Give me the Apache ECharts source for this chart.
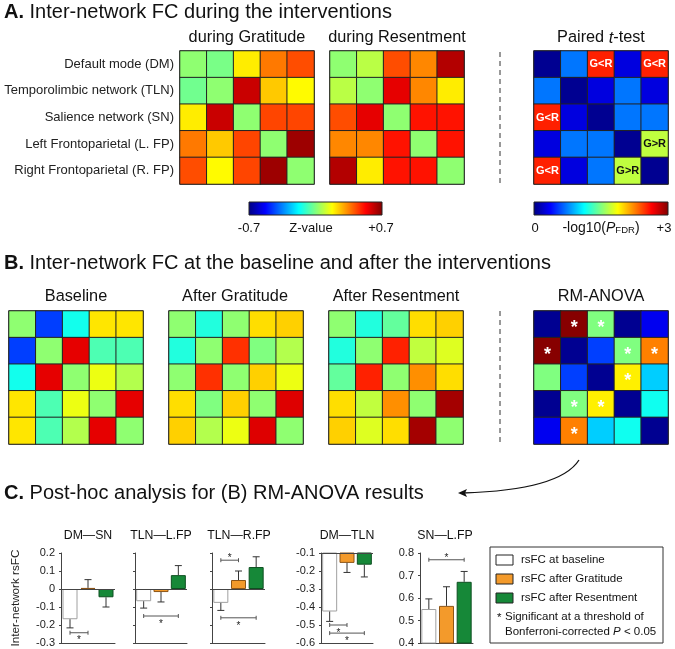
<!DOCTYPE html>
<html><head><meta charset="utf-8">
<script src="https://cdn.jsdelivr.net/npm/echarts@6/dist/echarts.min.js"></script>
<style>html,body{margin:0;padding:0;background:#fff}#c{width:675px;height:649px}</style>
</head><body><div id="c"></div>
<script>
// ---------- DATA ----------
const networks = ['Default mode (DM)', 'Temporolimbic network (TLN)', 'Salience network (SN)', 'Left Frontoparietal (L. FP)', 'Right Frontoparietal (R. FP)'];
const netShort = ['DM', 'TLN', 'SN', 'L.FP', 'R.FP'];

// Z-values (-0.7 .. +0.7)
const duringGratitude = [
  [0.02, -0.01, 0.20, 0.36, 0.42],
  [-0.02, 0.02, 0.60, 0.25, 0.18],
  [0.20, 0.60, 0.02, 0.43, 0.43],
  [0.36, 0.25, 0.43, 0.02, 0.66],
  [0.42, 0.18, 0.43, 0.66, 0.02]
];
const duringResentment = [
  [0.02, 0.08, 0.42, 0.34, 0.63],
  [0.08, 0.02, 0.56, 0.34, 0.20],
  [0.42, 0.56, 0.02, 0.50, 0.50],
  [0.34, 0.34, 0.50, 0.02, 0.50],
  [0.63, 0.20, 0.50, 0.50, 0.02]
];
// -log10(P_FDR) (0 .. 3)
const pairedT = [
  [0.05, 0.72, 2.53, 0.28, 2.53],
  [0.72, 0.05, 0.28, 0.72, 0.28],
  [2.53, 0.28, 0.05, 0.72, 0.72],
  [0.28, 0.72, 0.72, 0.05, 1.69],
  [2.53, 0.28, 0.72, 1.69, 0.05]
];
const pairedLabels = [
  ['', '', 'G<R', '', 'G<R'],
  ['', '', '', '', ''],
  ['G<R', '', '', '', ''],
  ['', '', '', '', 'G>R'],
  ['G<R', '', '', 'G>R', '']
];
const baseline = [
  [0.02, -0.44, -0.15, 0.21, 0.21],
  [-0.44, 0.02, 0.56, -0.07, -0.07],
  [-0.15, 0.56, 0.02, 0.15, 0.07],
  [0.21, -0.07, 0.15, 0.02, 0.56],
  [0.21, -0.07, 0.07, 0.56, 0.02]
];
const afterGratitude = [
  [0.02, -0.13, 0.02, 0.22, 0.24],
  [-0.13, 0.02, 0.46, 0.00, 0.07],
  [0.02, 0.46, 0.02, 0.24, 0.15],
  [0.22, 0.00, 0.24, 0.02, 0.57],
  [0.24, 0.07, 0.15, 0.57, 0.02]
];
const afterResentment = [
  [0.02, -0.13, -0.04, 0.22, 0.24],
  [-0.13, 0.02, 0.48, 0.09, 0.13],
  [-0.04, 0.48, 0.02, 0.33, 0.22],
  [0.22, 0.09, 0.33, 0.02, 0.65],
  [0.24, 0.13, 0.22, 0.65, 0.02]
];
const rmAnova = [
  [0.05, 2.98, 1.50, 0.05, 0.33],
  [2.98, 0.05, 0.56, 1.50, 2.25],
  [1.50, 0.56, 0.05, 1.92, 0.98],
  [0.05, 1.50, 1.92, 0.05, 1.17],
  [0.33, 2.25, 0.98, 1.17, 0.05]
];
const anovaStars = [
  ['', '*', '*', '', ''],
  ['*', '', '', '*', '*'],
  ['', '', '', '*', ''],
  ['', '*', '*', '', ''],
  ['', '*', '', '', '']
];

// Post-hoc bars: [baseline, after Gratitude, after Resentment]
const barGroups = ['rsFC at baseline', 'rsFC after Gratitude', 'rsFC after Resentment'];
const barTitles = ['DM\u2014SN', 'TLN\u2014L.FP', 'TLN\u2014R.FP', 'DM\u2014TLN', 'SN\u2014L.FP'];
const meanDMSN = [-0.168, 0.006, -0.046];
const errDMSN = [0.048, 0.046, 0.054];
const meanTLNLFP = [-0.068, -0.017, 0.077];
const errTLNLFP = [0.038, 0.055, 0.053];
const meanTLNRFP = [-0.077, 0.050, 0.122];
const errTLNRFP = [0.042, 0.050, 0.057];
const meanDMTLN = [-0.425, -0.155, -0.165];
const errDMTLN = [0.055, 0.053, 0.068];
const meanSNLFP = [0.551, 0.565, 0.672];
const errSNLFP = [0.045, 0.085, 0.046];
// significance brackets: [from bar, to bar, y]
const sigDMSN = [[0, 1, -0.243]];
const sigTLNLFP = [[0, 2, -0.150]];
const sigTLNRFP = [[0, 1, 0.160], [0, 2, -0.160]];
const sigDMTLN = [[0, 1, -0.500], [0, 2, -0.545]];
const sigSNLFP = [[0, 2, 0.770]];
const axisMinDMSN = -0.3, axisMaxDMSN = 0.2;
const axisMinDMTLN = -0.6, axisMaxDMTLN = -0.1;
const axisMinSNLFP = 0.4, axisMaxSNLFP = 0.8;

// ---------- STYLE ----------
const FONT = '"Liberation Sans", Arial, Helvetica, sans-serif';
const JET = ['#000080', '#0000FF', '#0080FF', '#00FFFF', '#80FF80', '#FFFF00', '#FF8000', '#FF0000', '#800000'];
const BAR_FILL = ['#FFFFFF', '#F39A2B', '#168838'];
const BAR_BORDER = ['#A0A0A0', '#8C5518', '#0D4F20'];

const chart = echarts.init(document.getElementById('c'));

const grid = [], xAxis = [], yAxis = [], series = [];

// heatmaps
const heatDefs = [
  { m: duringGratitude, l: 180, t: 51, labels: null, names: true },
  { m: duringResentment, l: 330, t: 51 },
  { m: pairedT, l: 534, t: 51, labels: pairedLabels, kind: 'p' },
  { m: baseline, l: 9, t: 311 },
  { m: afterGratitude, l: 169, t: 311 },
  { m: afterResentment, l: 329, t: 311 },
  { m: rmAnova, l: 534, t: 311, labels: anovaStars, kind: 's' }
];
heatDefs.forEach((h, i) => {
  grid.push({ left: h.l, top: h.t, width: 134, height: 133, show: true, borderColor: '#222', borderWidth: 1.2, backgroundColor: 'transparent' });
  xAxis.push({ type: 'category', gridIndex: i, data: netShort, show: false });
  yAxis.push({
    type: 'category', gridIndex: i, data: h.names ? networks : netShort, inverse: true,
    show: !!h.names, axisLine: { show: false }, axisTick: { show: false },
    axisLabel: { show: !!h.names, fontFamily: FONT, fontSize: 13, color: '#222', margin: 6 }
  });
  const data = [];
  h.m.forEach((row, r) => row.forEach((v, c) => {
    const item = { value: [c, r, v] };
    const txt = h.labels ? h.labels[r][c] : '';
    if (txt) {
      if (h.kind === 'p') {
        item.label = { show: true, formatter: txt, color: txt === 'G<R' ? '#fff' : '#111', fontWeight: 'bold', fontSize: 11, fontFamily: FONT };
      } else {
        item.label = { show: true, formatter: txt, color: '#fff', fontWeight: 'bold', fontSize: 18, fontFamily: FONT, offset: [0, 4] };
      }
    }
    data.push(item);
  }));
  series.push({
    type: 'heatmap', xAxisIndex: i, yAxisIndex: i, data: data,
    itemStyle: { borderColor: '#222', borderWidth: 1 },
    label: { show: false }, emphasis: { disabled: true }, silent: true
  });
});

// bar charts
const barDefs = [
  { mean: meanDMSN, err: errDMSN, sig: sigDMSN, l: 61, w: 54, min: axisMinDMSN, max: axisMaxDMSN, labels: true, ref: 0 },
  { mean: meanTLNLFP, err: errTLNLFP, sig: sigTLNLFP, l: 135, w: 52, min: axisMinDMSN, max: axisMaxDMSN, labels: false, ref: 0 },
  { mean: meanTLNRFP, err: errTLNRFP, sig: sigTLNRFP, l: 212, w: 53, min: axisMinDMSN, max: axisMaxDMSN, labels: false, ref: 0 },
  { mean: meanDMTLN, err: errDMTLN, sig: sigDMTLN, l: 321, w: 52, min: axisMinDMTLN, max: axisMaxDMTLN, labels: true, ref: axisMaxDMTLN },
  { mean: meanSNLFP, err: errSNLFP, sig: sigSNLFP, l: 420, w: 53, min: axisMinSNLFP, max: axisMaxSNLFP, labels: true, ref: null }
];
const AX = '#444';
barDefs.forEach((b, k) => {
  const gi = heatDefs.length + k;
  grid.push({ left: b.l, top: 553, width: b.w, height: 90 });
  xAxis.push({
    type: 'category', gridIndex: gi, data: barGroups,
    axisLine: { show: true, onZero: false, lineStyle: { color: AX, width: 1 } },
    axisTick: { show: false }, axisLabel: { show: false }, splitLine: { show: false }
  });
  yAxis.push({
    type: 'value', gridIndex: gi, min: b.min, max: b.max, interval: 0.1,
    axisLine: { show: true, lineStyle: { color: AX, width: 1 } },
    axisTick: { show: true, length: 2, lineStyle: { color: AX } },
    axisLabel: { show: b.labels, fontFamily: FONT, fontSize: 11, color: '#222', margin: 6,
      formatter: v => (Math.abs(v) < 1e-9 ? '0' : (Math.round(v * 10) / 10).toFixed(1)) },
    splitLine: { show: false }
  });
  const bar = {
    type: 'bar', xAxisIndex: gi, yAxisIndex: gi, barWidth: 15, clip: true, silent: true,
    data: b.mean.map((v, i) => ({ value: v, itemStyle: { color: BAR_FILL[i], borderColor: BAR_BORDER[i], borderWidth: 1 } }))
  };
  if (b.ref !== null) {
    bar.markLine = { silent: true, symbol: 'none', label: { show: false }, lineStyle: { color: AX, width: 1, type: 'solid' }, data: [{ yAxis: b.ref }] };
  }
  series.push(bar);
  // error bars
  series.push({
    type: 'custom', xAxisIndex: gi, yAxisIndex: gi, silent: true, z: 3,
    encode: { x: 0, y: 1 },
    data: b.mean.map((v, i) => [i, v, v + (v >= (b.ref === null ? 0 : b.ref) ? b.err[i] : -b.err[i])]),
    renderItem: (params, api) => {
      const p0 = api.coord([api.value(0), api.value(1)]);
      const p1 = api.coord([api.value(0), api.value(2)]);
      return { type: 'group', children: [
        { type: 'line', shape: { x1: p0[0], y1: p0[1], x2: p1[0], y2: p1[1] }, style: { stroke: '#333', lineWidth: 1 } },
        { type: 'line', shape: { x1: p1[0] - 3.5, y1: p1[1], x2: p1[0] + 3.5, y2: p1[1] }, style: { stroke: '#333', lineWidth: 1 } }
      ] };
    }
  });
  // significance brackets
  series.push({
    type: 'custom', xAxisIndex: gi, yAxisIndex: gi, silent: true, z: 3,
    encode: { x: 0, y: 2 },
    data: b.sig,
    renderItem: (params, api) => {
      const yv = api.value(2);
      const a = api.coord([api.value(0), yv]);
      const c = api.coord([api.value(1), yv]);
      const up = yv > 0;
      return { type: 'group', children: [
        { type: 'line', shape: { x1: a[0], y1: a[1], x2: c[0], y2: c[1] }, style: { stroke: '#555', lineWidth: 1 } },
        { type: 'line', shape: { x1: a[0], y1: a[1] - 2, x2: a[0], y2: a[1] + 2 }, style: { stroke: '#555', lineWidth: 1 } },
        { type: 'line', shape: { x1: c[0], y1: c[1] - 2, x2: c[0], y2: c[1] + 2 }, style: { stroke: '#555', lineWidth: 1 } },
        { type: 'text', x: (a[0] + c[0]) / 2, y: a[1] + (up ? -2 : 8), style: { text: '*', font: '10px ' + FONT, fill: '#222', textAlign: 'center', textVerticalAlign: 'middle' } }
      ] };
    }
  });
});

// ---------- GRAPHIC (titles, colorbars, annotations) ----------
const T = (x, y, text, size, align, extra) => Object.assign({
  type: 'text', x: x, y: y, silent: true,
  style: Object.assign({ text: text, font: size + 'px ' + FONT, fill: '#111', textAlign: align || 'center', textVerticalAlign: 'middle' }, extra || {})
});
const panelTitle = (y, letter, rest) => ({
  type: 'text', x: 4, y: y, silent: true,
  style: { text: '{b|' + letter + '}{n| ' + rest + '}', textVerticalAlign: 'middle', fill: '#111',
    rich: { b: { fontFamily: FONT, fontSize: 20, fontWeight: 'bold', fill: '#111' }, n: { fontFamily: FONT, fontSize: 20, fill: '#111' } } }
});
const grad = () => ({ type: 'linear', x: 0, y: 0, x2: 1, y2: 0, colorStops: JET.map((c, i) => ({ offset: i / (JET.length - 1), color: c })) });

const graphic = [
  panelTitle(12, 'A.', 'Inter-network FC during the interventions'),
  panelTitle(263, 'B.', 'Inter-network FC at the baseline and after the interventions'),
  panelTitle(493, 'C.', 'Post-hoc analysis for (B) RM-ANOVA results'),
  T(247, 38, 'during Gratitude', 16.3),
  T(397, 38, 'during Resentment', 16.3),
  { type: 'text', x: 601, y: 38, silent: true, style: { text: 'Paired {i|t}-test', font: '16.3px ' + FONT, fill: '#111', textAlign: 'center', textVerticalAlign: 'middle',
    rich: { i: { fontFamily: FONT, fontSize: 16.3, fontStyle: 'italic', fill: '#111' } } } },
  T(76, 297, 'Baseline', 16.3),
  T(235, 297, 'After Gratitude', 16.3),
  T(396, 297, 'After Resentment', 16.3),
  T(601, 297, 'RM-ANOVA', 16.3),
  // colorbars
  { type: 'rect', silent: true, shape: { x: 249, y: 202, width: 133, height: 13 }, style: { fill: grad(), stroke: '#222', lineWidth: 1 } },
  { type: 'rect', silent: true, shape: { x: 534, y: 202, width: 134, height: 13 }, style: { fill: grad(), stroke: '#222', lineWidth: 1 } },
  T(249, 228, '-0.7', 13),
  T(311, 228, 'Z-value', 13),
  T(381, 228, '+0.7', 13),
  T(535, 228, '0', 13),
  { type: 'text', x: 601, y: 228, silent: true, style: { text: '-log10({i|P}{s|FDR})', font: '14px ' + FONT, fill: '#111', textAlign: 'center', textVerticalAlign: 'middle',
    rich: { i: { fontFamily: FONT, fontSize: 14, fontStyle: 'italic', fill: '#111' }, s: { fontFamily: FONT, fontSize: 9.5, fill: '#111', padding: [5, 0, 0, 0] } } } },
  T(664, 228, '+3', 13),
  // dashed separators
  { type: 'line', silent: true, shape: { x1: 500, y1: 52, x2: 500, y2: 185 }, style: { stroke: '#333', lineWidth: 1, lineDash: [5, 4] } },
  { type: 'line', silent: true, shape: { x1: 500, y1: 311, x2: 500, y2: 444 }, style: { stroke: '#333', lineWidth: 1, lineDash: [5, 4] } },
  // arrow
  { type: 'bezierCurve', silent: true, shape: { x1: 579, y1: 460, cpx1: 560, cpy1: 490, x2: 463, y2: 493 }, style: { stroke: '#111', lineWidth: 1.3, fill: null } },
  { type: 'polygon', silent: true, shape: { points: [[458, 493], [467, 489], [465, 493], [467, 497]] }, style: { fill: '#111' } },
  // bar chart titles
  T(88, 536, barTitles[0], 12.3),
  T(161, 536, barTitles[1], 12.3),
  T(239, 536, barTitles[2], 12.3),
  T(347, 536, barTitles[3], 12.3),
  T(445, 536, barTitles[4], 12.3),
  { type: 'text', x: 16, y: 598, rotation: Math.PI / 2, silent: true, style: { text: 'Inter-network rsFC', font: '11.7px ' + FONT, fill: '#222', textAlign: 'center', textVerticalAlign: 'middle' } },
  // legend box
  { type: 'rect', silent: true, shape: { x: 490, y: 547, width: 173, height: 96 }, style: { fill: '#fff', stroke: '#333', lineWidth: 1 } }
];
barGroups.forEach((g, i) => {
  graphic.push({ type: 'rect', silent: true, shape: { x: 496, y: 555 + 19 * i, width: 17, height: 10 }, style: { fill: BAR_FILL[i], stroke: '#222', lineWidth: 1 } });
  graphic.push(T(521, 560 + 19 * i, g, 11.5, 'left'));
});
graphic.push(T(497, 618, '*', 11.5, 'left'));
graphic.push(T(505, 617, 'Significant at a threshold of', 11.5, 'left'));
graphic.push({ type: 'text', x: 505, y: 632, silent: true, style: { text: 'Bonferroni-corrected {i|P} < 0.05', font: '11.5px ' + FONT, fill: '#111', textAlign: 'left', textVerticalAlign: 'middle',
  rich: { i: { fontFamily: FONT, fontSize: 11.5, fontStyle: 'italic', fill: '#111' } } } });

chart.setOption({
  animation: false,
  backgroundColor: '#fff',
  grid: grid, xAxis: xAxis, yAxis: yAxis,
  visualMap: [
    { type: 'continuous', show: false, min: -0.7, max: 0.7, dimension: 2, seriesIndex: [0, 1, 3, 4, 5], inRange: { color: JET } },
    { type: 'continuous', show: false, min: 0, max: 3, dimension: 2, seriesIndex: [2, 6], inRange: { color: JET } }
  ],
  series: series,
  graphic: graphic
});
</script></body></html>
